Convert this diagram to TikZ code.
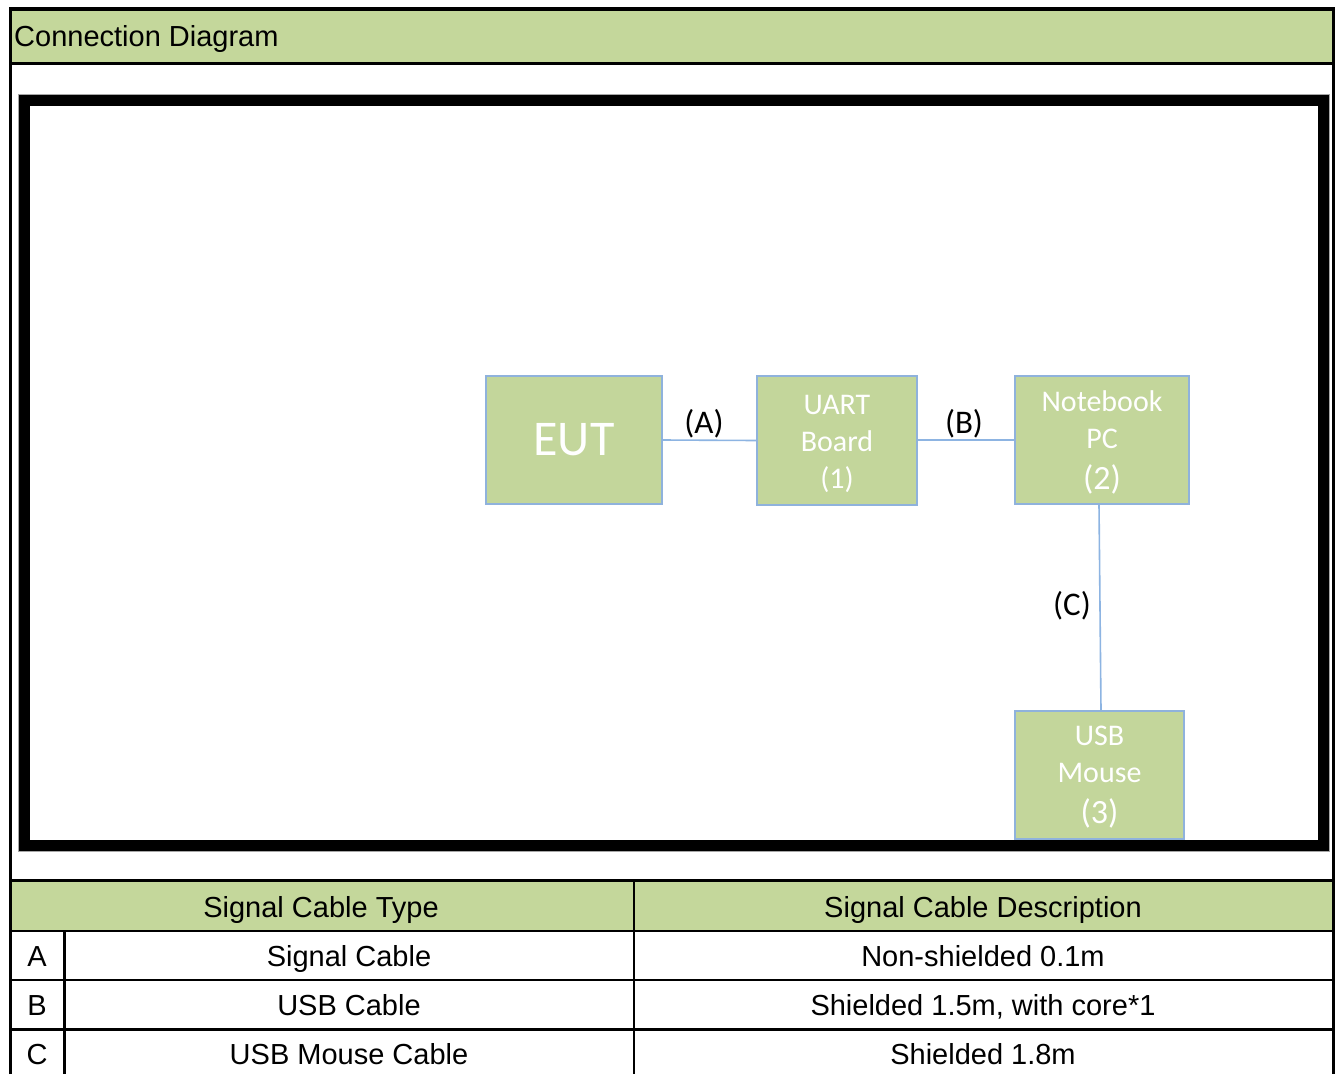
\documentclass[tikz,border=0pt]{standalone}
\usepackage{fontspec}
\setmainfont{Liberation Sans}
\newfontfamily\calfont{Carlito}
\definecolor{hdrgreen}{HTML}{C4D79B}
\definecolor{boxgreen}{HTML}{C3D69B}
\definecolor{boxedge}{HTML}{8FB2DC}
\definecolor{wireblue}{HTML}{8DB4E2}
\tikzset{
  devbox/.style={draw=boxedge, line width=1.6pt, fill=boxgreen, inner sep=0pt, text=white, align=center, font=\calfont\fontsize{30}{37}\selectfont},
  boxtext/.style={text=white, align=center, inner sep=0pt, font=\calfont\fontsize{30}{37}\selectfont},
  wire/.style={draw=wireblue, line width=1.6pt},
  wirelabel/.style={inner sep=0pt, anchor=base, font=\calfont\fontsize{33}{37}\selectfont},
  celltext/.style={inner sep=0pt, anchor=base, font=\fontsize{29}{32}\selectfont},
  tline/.style={line width=2.6pt, black}
}
\begin{document}
\begin{tikzpicture}[x=1pt,y=-1pt]
\useasboundingbox (0,0) rectangle (1336,1074);
\fill[white] (0,0) rectangle (1336,1074);
% title bar
\fill[hdrgreen] (11,10) rectangle (1332,63);
\node[anchor=base west, inner sep=0pt, font=\fontsize{29}{32}\selectfont] (title) at (14,46) {Connection Diagram};
% outer frame
\draw[line width=3.5pt] (10.5,1074) -- (10.5,8.8) -- (1333.5,8.8) -- (1333.5,1074);
\draw[line width=2.4pt] (10.5,63.5) -- (1333.5,63.5);
% thick inner frame
\draw[gray!70, line width=1pt] (18.5,94.5) rectangle (1329.5,851.5);
\draw[line width=11.5pt] (24.3,100.3) rectangle (1323.7,845.7);
% devices
\node[devbox, minimum width=176pt, minimum height=128pt, font=\calfont\fontsize{50}{56}\selectfont] (eut) at (574,440) {EUT};
\node[devbox, minimum width=160pt, minimum height=129pt] (uart) at (837,440.5) {};
\node[boxtext] (uartt) at (837,444) {UART\\Board\\(1)};
\node[devbox, minimum width=174pt, minimum height=128pt] (nb) at (1102,440) {};
\node[boxtext] (nbt) at (1102,442) {Notebook\\PC\\[4pt]{\fontsize{34}{38}\selectfont(2)}};
\node[devbox, minimum width=169pt, minimum height=128pt] (mouse) at (1099.5,775) {};
\node[boxtext] (mouset) at (1099.5,777) {USB\\Mouse\\[4pt]{\fontsize{34}{38}\selectfont(3)}};
% wires
\draw[wire] (eut.east) -- (uart.west);
\draw[wire] (uart.east |- eut.east) -- (nb.west);
\draw[wire] ([xshift=-3pt]nb.south) -- ([xshift=1.5pt]mouse.north);
\node[wirelabel] (la) at (704,433) {(A)};
\node[wirelabel] (lb) at (964,433) {(B)};
\node[wirelabel] (lc) at (1072,615) {(C)};
% table
\fill[hdrgreen] (12,881) rectangle (1332,930);
\draw[line width=3pt] (10.5,880.5) -- (1333.5,880.5);
\draw[tline] (10.5,930.8) -- (1333.5,930.8);
\draw[tline] (10.5,980) -- (1333.5,980);
\draw[tline] (10.5,1029.2) -- (1333.5,1029.2);
\draw[tline] (634,880.5) -- (634,1074);
\draw[tline] (64.3,930.8) -- (64.3,1074);
\node[celltext] (h1) at (321,917) {Signal Cable Type};
\node[celltext] (h2) at (983,917) {Signal Cable Description};
\node[celltext] (ra) at (37,966) {A};
\node[celltext] (rb) at (37,1015) {B};
\node[celltext] (rc) at (37,1064) {C};
\node[celltext] (ta) at (349,966) {Signal Cable};
\node[celltext] (tb) at (349,1015) {USB Cable};
\node[celltext] (tc) at (349,1064) {USB Mouse Cable};
\node[celltext] (da) at (983,966) {Non-shielded 0.1m};
\node[celltext] (db) at (983,1015) {Shielded 1.5m, with core*1};
\node[celltext] (dc) at (983,1064) {Shielded 1.8m};
\end{tikzpicture}
\end{document}
